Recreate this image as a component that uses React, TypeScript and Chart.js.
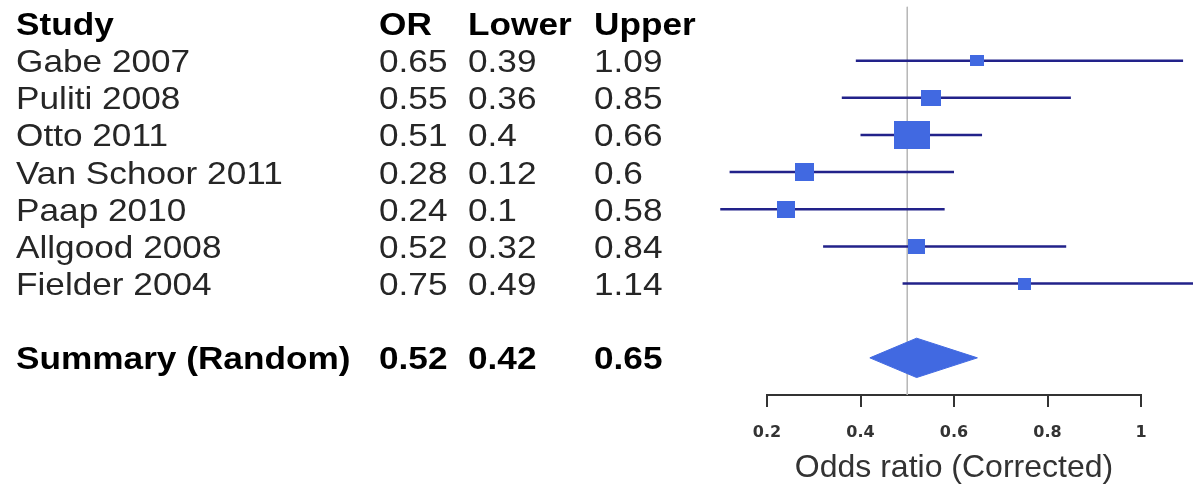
import React, { useEffect, useRef } from "react";
import { Chart, registerables } from "chart.js";

Chart.register(...registerables);

// ---------- data ----------
const studies = [
  "Gabe 2007",
  "Puliti 2008",
  "Otto 2011",
  "Van Schoor 2011",
  "Paap 2010",
  "Allgood 2008",
  "Fielder 2004",
];
const orValues = [0.65, 0.55, 0.51, 0.28, 0.24, 0.52, 0.75];
const lowerValues = [0.39, 0.36, 0.4, 0.12, 0.1, 0.32, 0.49];
const upperValues = [1.09, 0.85, 0.66, 0.6, 0.58, 0.84, 1.14];
const summaryLabel = "Summary (Random)";
const summaryOR = 0.52;
const summaryLower = 0.42;
const summaryUpper = 0.65;
const headerLabels = ["Study", "OR", "Lower", "Upper"];
const xTicks = [0.2, 0.4, 0.6, 0.8, 1];
const referenceValue = 0.5;
const axisTitle = "Odds ratio (Corrected)";

// ---------- styles ----------
const BOX = "#4169e1"; // royalblue
const LINE = "#22228a"; // darkblue-ish
const boxSizes: [number, number][] = [
  [14, 11],
  [20, 16],
  [36, 28],
  [19, 18],
  [18, 17],
  [17, 15],
  [13, 12],
];
const TEXT_FONT = "'Liberation Sans', Arial, sans-serif";

function makeBox(w: number, h: number): HTMLCanvasElement {
  const c = document.createElement("canvas");
  c.width = w;
  c.height = h;
  const ctx = c.getContext("2d")!;
  ctx.fillStyle = BOX;
  ctx.fillRect(0, 0, w, h);
  return c;
}

const summaryRow = studies.length + 2;

const tablePlugin = {
  id: "forestTable",
  afterDraw(chart: any) {
    const ctx = chart.ctx;
    const y = chart.scales.y;
    const sx = 1.1;
    const colStudy = 16;
    const colOR = 379;
    const colLower = 468;
    const colUpper = 594;
    const draw = (text: string, x: number, row: number, bold: boolean) => {
      ctx.save();
      ctx.font = `${bold ? "bold " : ""}32px ${TEXT_FONT}`;
      ctx.fillStyle = bold ? "#000" : "#262626";
      ctx.textAlign = "left";
      ctx.textBaseline = "alphabetic";
      ctx.translate(x, y.getPixelForValue(row) + 11.5);
      ctx.scale(sx, 1);
      ctx.fillText(text, 0, 0);
      ctx.restore();
    };
    draw(headerLabels[0], colStudy, 0, true);
    draw(headerLabels[1], colOR, 0, true);
    draw(headerLabels[2], colLower, 0, true);
    draw(headerLabels[3], colUpper, 0, true);
    studies.forEach((s, i) => {
      const row = i + 1;
      draw(s, colStudy, row, false);
      draw(String(orValues[i]), colOR, row, false);
      draw(String(lowerValues[i]), colLower, row, false);
      draw(String(upperValues[i]), colUpper, row, false);
    });
    draw(summaryLabel, colStudy, summaryRow, true);
    draw(String(summaryOR), colOR, summaryRow, true);
    draw(String(summaryLower), colLower, summaryRow, true);
    draw(String(summaryUpper), colUpper, summaryRow, true);
  },
};

export default function App() {
  const ref = useRef<HTMLCanvasElement>(null);

  useEffect(() => {
    document.body.style.margin = "0";
    const boxImages = boxSizes.map(([w, h]) => makeBox(w, h));

    const ciDatasets = studies.map((s, i) => ({
      label: s + " CI",
      data: [
        { x: lowerValues[i], y: i + 1 },
        { x: upperValues[i], y: i + 1 },
      ],
      showLine: true,
      borderColor: LINE,
      borderWidth: 2.5,
      pointRadius: 0,
      pointHoverRadius: 0,
      pointBorderWidth: 0,
      clip: false as any,
    }));

    const chart = new Chart(ref.current!, {
      type: "scatter",
      data: {
        datasets: [
          {
            label: "OR",
            data: orValues.map((v, i) => ({ x: v, y: i + 1 })),
            pointStyle: (c: any) => boxImages[c.dataIndex] as any,
            pointRadius: 0.5,
            pointHoverRadius: 0,
            pointBorderWidth: 0,
            borderWidth: 0,
            showLine: false,
            clip: false as any,
          },
          {
            label: "Summary",
            data: [
              { x: summaryLower, y: summaryRow },
              { x: summaryOR, y: summaryRow - 0.53 },
              { x: summaryUpper, y: summaryRow },
              { x: summaryOR, y: summaryRow + 0.53 },
              { x: summaryLower, y: summaryRow },
            ],
            showLine: true,
            fill: "shape" as any,
            backgroundColor: BOX,
            borderColor: BOX,
            borderWidth: 1,
            pointRadius: 0,
            pointHoverRadius: 0,
            pointBorderWidth: 0,
            tension: 0,
          },
          ...ciDatasets,
          {
            label: "reference",
            data: [
              { x: referenceValue, y: -0.45 },
              { x: referenceValue, y: 10 },
            ],
            showLine: true,
            borderColor: "#b8b8b8",
            borderWidth: 1,
            pointRadius: 0,
            pointHoverRadius: 0,
            pointBorderWidth: 0,
          },
        ],
      },
      options: {
        animation: false,
        responsive: false,
        devicePixelRatio: 1,
        layout: { padding: { left: 767, right: 52, top: 0, bottom: 0 } },
        plugins: {
          legend: { display: false },
          tooltip: { enabled: false },
        },
        scales: {
          x: {
            type: "linear",
            min: 0.2,
            max: 1,
            afterBuildTicks: (s: any) => {
              s.ticks = xTicks.map((v) => ({ value: v }));
            },
            afterFit: (s: any) => {
              s.height = 92;
            },
            grid: {
              drawOnChartArea: false,
              drawTicks: true,
              tickLength: 12,
              color: "#333",
              lineWidth: 2,
            },
            border: { display: true, color: "#333", width: 2 },
            ticks: {
              padding: 16,
              color: "#333",
              font: { family: "'DejaVu Sans'", size: 16, weight: "bold" },
              callback: (v: any) => String(v),
              maxRotation: 0,
            },
            title: {
              display: true,
              text: axisTitle,
              color: "#333",
              font: { family: TEXT_FONT, size: 32 },
              padding: { top: 0, bottom: 0 },
            },
          },
          y: {
            type: "linear",
            reverse: true,
            min: -0.62,
            max: 10,
            display: false,
            ticks: { display: false },
          },
        },
      },
      plugins: [tablePlugin],
    });
    return () => chart.destroy();
  }, []);

  return (
    <canvas
      ref={ref}
      width={1193}
      height={487}
      style={{ display: "block", width: 1193, height: 487 }}
    />
  );
}
